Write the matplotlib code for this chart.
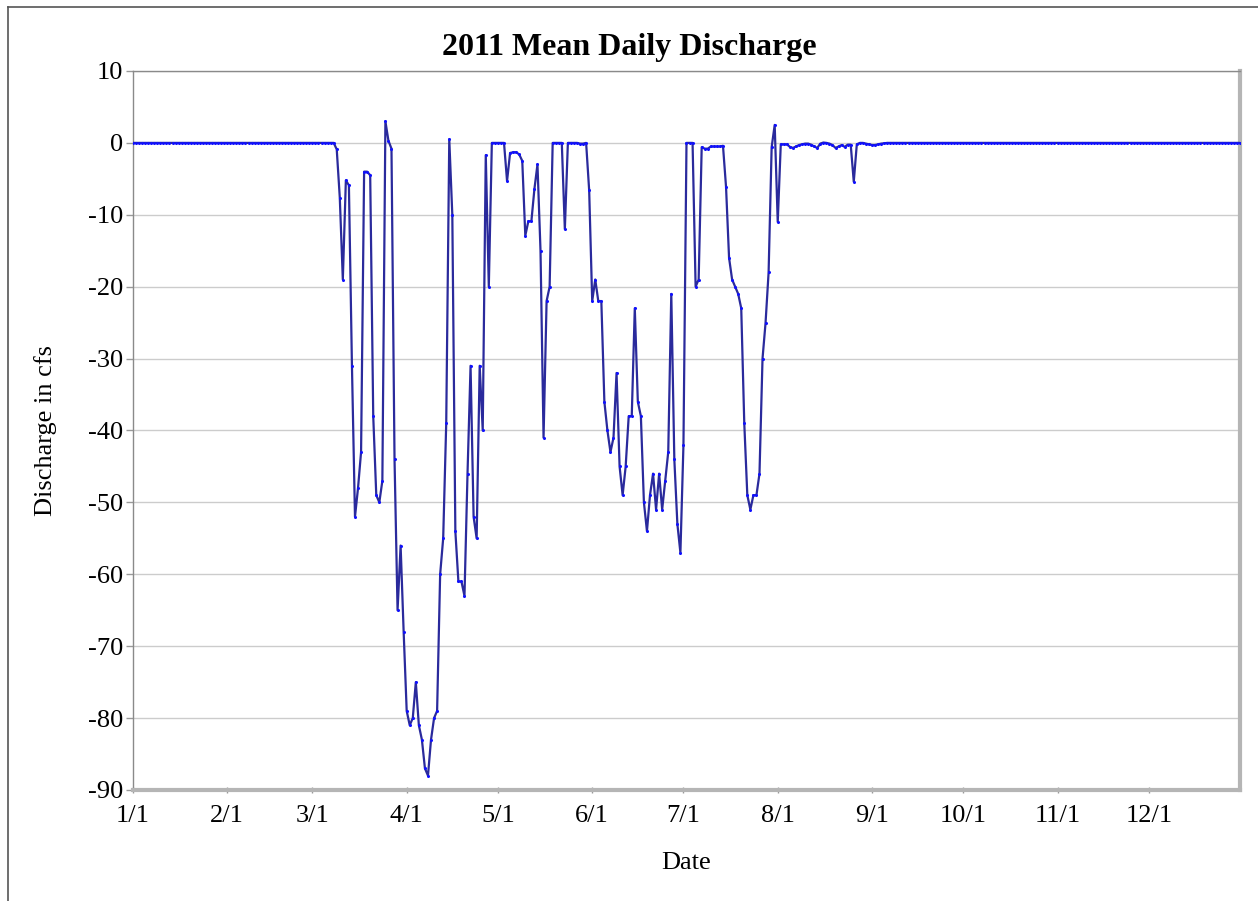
import numpy as np
import pandas as pd
import matplotlib
matplotlib.use("Agg")
import matplotlib.pyplot as plt
from matplotlib.lines import Line2D

# Data: zero flow before and after the active period
year_start = "2011-01-01"
year_end = "2011-12-31"
active_start = "2011-03-09"   # first day that departs from zero

active_values = [
    -0.9, -7.6, -19, -5.2, -5.9, -31, -52, -48, -43, -4,
    -4, -4.5, -38, -49, -50, -47, 3, 0.3, -0.8, -44,
    -65, -56, -68, -79, -81, -80, -75, -81, -83, -87,
    -88, -83, -80, -79, -60, -55, -39, 0.5, -10, -54,
    -61, -61, -63, -46, -31, -52, -55, -31, -40, -1.7,
    -20, 0, 0, 0, 0, 0, -5.3, -1.4, -1.3, -1.3,
    -1.6, -2.5, -12.9, -10.9, -10.9, -6.4, -3, -15, -41, -22,
    -20, 0, 0, 0, 0, -12, 0, 0, 0, 0,
    -0.1, -0.1, 0, -6.6, -22, -19, -22, -22, -36, -40,
    -43, -41, -32, -45, -49, -45, -38, -38, -23, -36,
    -38, -50, -54, -49, -46, -51, -46, -51, -47, -43,
    -21, -44, -53, -57, -42, 0, 0, 0, -20, -19,
    -0.6, -0.8, -0.8, -0.5, -0.5, -0.5, -0.5, -0.4, -6.1, -16,
    -19, -20, -21, -23, -39, -49, -51, -49, -49, -46,
    -30, -25, -18, -0.6, 2.5, -11, -0.2, -0.2, -0.2, -0.55,
    -0.7, -0.5, -0.3, -0.2, -0.1, -0.1, -0.25, -0.5, -0.7, -0.1,
    0.05, 0, -0.1, -0.3, -0.7, -0.5, -0.3, -0.55, -0.25, -0.25,
    -5.4, -0.2, 0, 0, -0.1, -0.2, -0.3, -0.3, -0.2, -0.1,
    -0.05,
]

month_labels = ["1/1", "2/1", "3/1", "4/1", "5/1", "6/1",
                "7/1", "8/1", "9/1", "10/1", "11/1", "12/1"]
y_ticks = [-90, -80, -70, -60, -50, -40, -30, -20, -10, 0, 10]

# Build the daily series
dates = pd.date_range(year_start, year_end, freq="D")
discharge = pd.Series(0.0, index=dates)
active_dates = pd.date_range(active_start, periods=len(active_values), freq="D")
discharge.loc[active_dates] = active_values

plt.rcParams['font.family'] = ['Liberation Serif', 'DejaVu Serif']

fig = plt.figure(figsize=(12.58, 9.01), dpi=100)
ax = fig.add_axes([0.1057, 0.1232, 0.8800, 0.7980])

ax.plot(
    discharge.index,
    discharge.values,
    color="#2a2a9c",
    linewidth=1.6,
    marker="o",
    markersize=1.2,
    markerfacecolor="#1010ff",
    markeredgecolor="#1010ff",
    zorder=3
)

ax.set_xlim(pd.Timestamp(year_start), pd.Timestamp(year_end))
ax.set_ylim(-90, 10)

month_starts = pd.date_range(year_start, periods=12, freq="MS")
ax.set_xticks(month_starts)
ax.set_xticklabels(month_labels)
ax.set_yticks(y_ticks)
ax.set_yticklabels([str(v) for v in y_ticks])

ax.tick_params(axis="both", labelsize=19, colors="#999999",
               labelcolor="black", length=5, width=1)
ax.tick_params(axis="x", direction="inout", pad=8)
ax.tick_params(axis="y", direction="out", pad=2)

ax.grid(axis="y", color="#cccccc", linewidth=1)
ax.set_axisbelow(True)

for side in ["left", "top"]:
    ax.spines[side].set_color("#8a8a8a")
    ax.spines[side].set_linewidth(1)
for side in ["right", "bottom"]:
    ax.spines[side].set_color("#b5b5b5")
    ax.spines[side].set_linewidth(3)

fig.suptitle("2011 Mean Daily Discharge", fontsize=23,
             fontweight="bold", x=0.5, y=0.963, va="top")
ax.set_xlabel("Date", fontsize=19, labelpad=18)
ax.set_ylabel("Discharge in cfs", fontsize=19, labelpad=22)

# outer frame (top and left edges visible in the original)
fig.add_artist(Line2D([0.0064, 1.0], [0.9922, 0.9922],
                      transform=fig.transFigure, color="#555555", linewidth=1.2))
fig.add_artist(Line2D([0.0064, 0.0064], [0.0, 0.9922],
                      transform=fig.transFigure, color="#555555", linewidth=1.2))

plt.savefig("out.png", dpi=100)
plt.close()
